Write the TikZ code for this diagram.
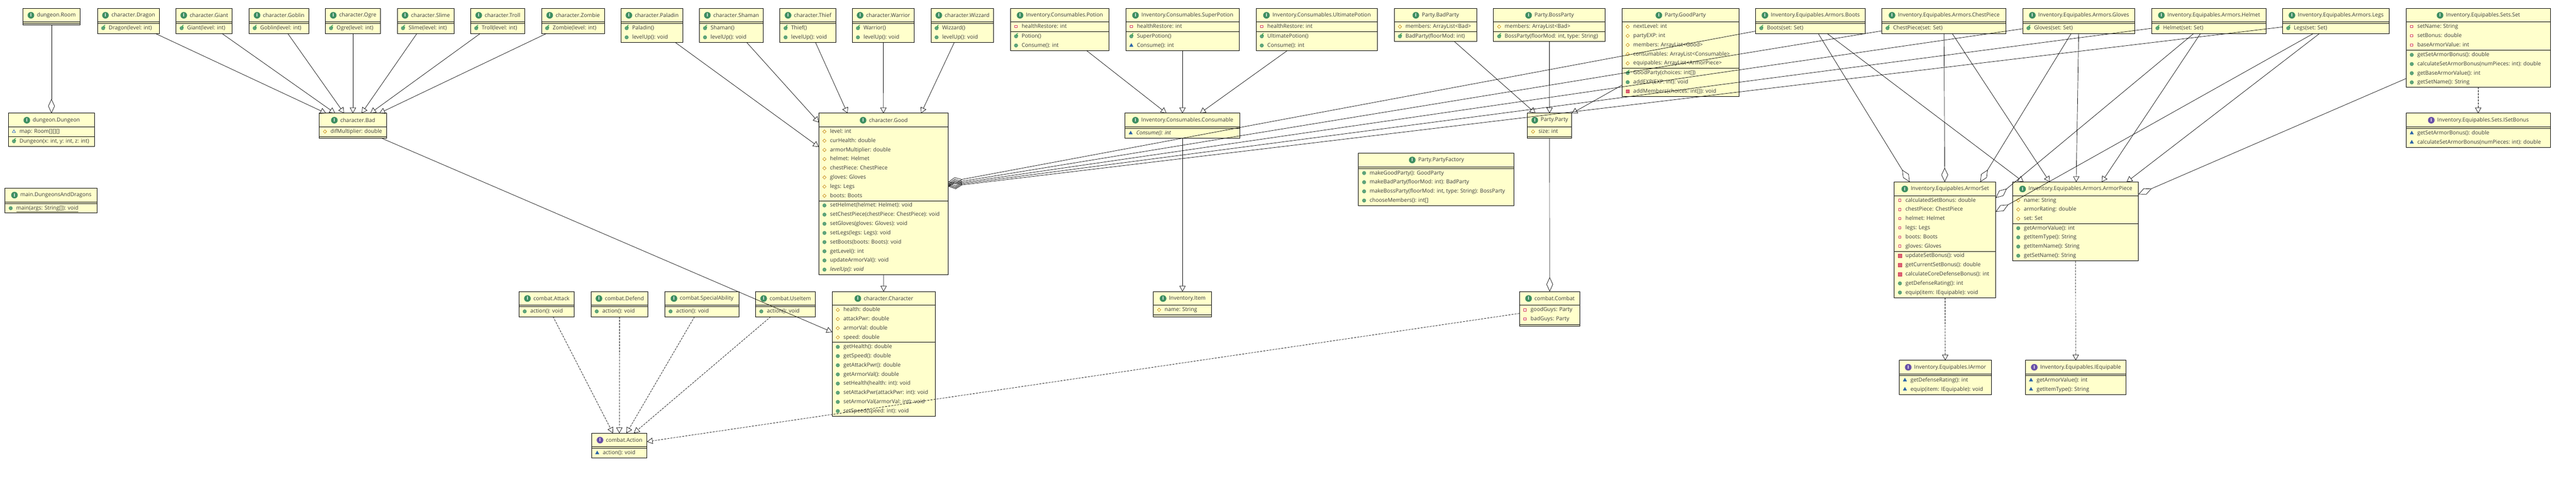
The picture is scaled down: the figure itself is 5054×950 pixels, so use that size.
\documentclass[tikz,border=0pt]{standalone}
\usepackage{fontspec}
\setmainfont{Open Sans}
\usetikzlibrary{positioning,arrows.meta,shapes.geometric}

\definecolor{boxfill}{HTML}{FFFFCC}
\definecolor{classgreen}{HTML}{3F8F62}
\definecolor{ifacepurple}{HTML}{6A52A8}
\definecolor{pubgreen}{HTML}{5FA57C}
\definecolor{ctorgreen}{HTML}{0E8A36}
\definecolor{protorange}{HTML}{C8901E}
\definecolor{privred}{HTML}{D23C55}
\definecolor{packblue}{HTML}{2A64A8}
\definecolor{rowgray}{HTML}{3C3C3C}

\tikzset{
  classbox/.style={draw=black, line width=0.9pt, fill=boxfill, inner sep=0pt, outer sep=0pt},
  rule/.style={draw=black, line width=0.9pt},
  titletext/.style={font=\fontsize{10.6}{12}\selectfont, text=rowgray, inner sep=0pt, outer sep=0pt},
  rowtext/.style={font=\fontsize{10.6}{12}\selectfont, text=rowgray, anchor=west, inner sep=0pt, outer sep=0pt, text height=9pt, text depth=3pt},
  iconclass/.style={circle, fill=classgreen, text=white, minimum size=13pt, inner sep=0pt, font=\fontsize{9}{9}\selectfont\bfseries},
  iconiface/.style={circle, fill=ifacepurple, text=white, minimum size=13pt, inner sep=0pt, font=\fontsize{9}{9}\selectfont\bfseries},
  iconpub/.style={circle, fill=pubgreen, draw=classgreen, line width=0.5pt, minimum size=7pt, inner sep=0pt},
  iconctor/.style={iconpub, label={[label distance=-4.5pt, text=ctorgreen, inner sep=1pt, font=\fontsize{8}{8}\selectfont\bfseries]40:c}},
  iconprot/.style={diamond, draw=protorange, line width=0.8pt, minimum size=7pt, inner sep=0pt},
  iconpriv/.style={rectangle, draw=privred, fill=white, line width=1pt, minimum size=4.5pt, inner sep=0pt},
  iconprivm/.style={rectangle, draw=privred, fill=privred!80, line width=0.5pt, minimum size=6.5pt, inner sep=0pt},
  iconpack/.style={regular polygon, regular polygon sides=3, draw=packblue, line width=0.8pt, fill=white, minimum size=7pt, inner sep=0pt},
  iconabs/.style={regular polygon, regular polygon sides=3, draw=packblue, fill=packblue, line width=0.5pt, minimum size=8pt, inner sep=0pt},
  gen/.style={line width=0.7pt, -{Triangle[open, length=11pt, width=12pt]}},
  impl/.style={gen, dash pattern=on 4pt off 2pt},
  agg/.style={line width=0.7pt, {Diamond[open, length=28pt, width=13pt]}-},
}

\newcommand{\umlsep}[2]{\draw[rule] (#1.west |- 0,#2) -- (#1.east |- 0,#2);}
\newcommand{\umlclass}[7][iconclass]{
  \node[classbox, minimum width=#4pt-#3pt, minimum height=#6pt-#5pt] (#2) at ({(#3+#4)/2},{(#5+#6)/2}) {};
  \node[titletext, xshift=9.5pt] (#2-t) at (#2.north |- 0,#5+13.7) {#7};
  \node[#1, left=5pt of #2-t] (#2-i) {\ifx#1iconclass C\else I\fi};
}
\newcommand{\umlrows}[4]{
  \foreach \kind/\txt [count=\i from 0] in {#4} {
    \pgfmathsetmacro{\yy}{#3+\i*18}
    \node[\kind, xshift=11pt] (#1-#2i\i) at (#1.west |- 0,\yy) {};
    \node[rowtext, xshift=22pt] (#1-#2t\i) at (#1.west |- 0,\yy) {\txt};
  }
}

\begin{document}
\begin{tikzpicture}[x=1pt, y=-1pt]
\useasboundingbox (0,0) rectangle (5054,950);

\umlclass{room}{44.5}{157.5}{16.3}{49.3}{dungeon.Room}
\umlsep{room}{43.3} \umlsep{room}{46.3}
\umlclass{dungeon}{16.3}{185.7}{222.3}{287.3}{dungeon.Dungeon}
\umlsep{dungeon}{249.3} \umlsep{dungeon}{268.3}
\umlrows{dungeon}{a}{258.3}{iconpack/{map: Room[][][]}}
\umlrows{dungeon}{m}{277.3}{iconctor/{Dungeon(x: int, y: int, z: int)}}
\umlclass{dnd}{10}{190.6}{369.3}{418.3}{main.DungeonsAndDragons}
\umlsep{dnd}{396.7} \umlsep{dnd}{399.7}
\umlrows{dnd}{m}{408.7}{iconpub/{\underline{main(args: String[]): void}}}

\umlclass{dragon}{191.4}{312.6}{16.3}{65.7}{character.Dragon}
\umlsep{dragon}{43.3} \umlsep{dragon}{46.3}
\umlrows{dragon}{m}{55.3}{iconctor/{Dragon(level: int)}}
\umlclass{giant}{345.3}{455.5}{16.3}{65.7}{character.Giant}
\umlsep{giant}{43.3} \umlsep{giant}{46.3}
\umlrows{giant}{m}{55.3}{iconctor/{Giant(level: int)}}
\umlclass{goblin}{488.6}{605.7}{16.3}{65.7}{character.Goblin}
\umlsep{goblin}{43.3} \umlsep{goblin}{46.3}
\umlrows{goblin}{m}{55.3}{iconctor/{Goblin(level: int)}}
\umlclass{ogre}{638.4}{746.5}{16.3}{65.7}{character.Ogre}
\umlsep{ogre}{43.3} \umlsep{ogre}{46.3}
\umlrows{ogre}{m}{55.3}{iconctor/{Ogre(level: int)}}
\umlclass{slime}{779.6}{890.6}{16.3}{65.7}{character.Slime}
\umlsep{slime}{43.3} \umlsep{slime}{46.3}
\umlrows{slime}{m}{55.3}{iconctor/{Slime(level: int)}}
\umlclass{troll}{923.3}{1029.4}{16.3}{65.7}{character.Troll}
\umlsep{troll}{43.3} \umlsep{troll}{46.3}
\umlrows{troll}{m}{55.3}{iconctor/{Troll(level: int)}}
\umlclass{zombie}{1062.4}{1185.7}{16.3}{65.7}{character.Zombie}
\umlsep{zombie}{43.3} \umlsep{zombie}{46.3}
\umlrows{zombie}{m}{55.3}{iconctor/{Zombie(level: int)}}
\umlclass{bad}{626.5}{758.4}{222.3}{271.7}{character.Bad}
\umlsep{bad}{249.3} \umlsep{bad}{268.3}
\umlrows{bad}{a}{258.3}{iconprot/{difMultiplier: double}}

\umlclass{paladin}{1218.4}{1339.6}{16.3}{83.3}{character.Paladin}
\umlsep{paladin}{43.3} \umlsep{paladin}{46.3}
\umlrows{paladin}{m}{55.3}{iconctor/Paladin(), iconpub/{levelUp(): void}}
\umlclass{shaman}{1372.2}{1497.6}{16.3}{83.3}{character.Shaman}
\umlsep{shaman}{43.3} \umlsep{shaman}{46.3}
\umlrows{shaman}{m}{55.3}{iconctor/Shaman(), iconpub/{levelUp(): void}}
\umlclass{thief}{1530.2}{1639.6}{16.3}{83.3}{character.Thief}
\umlsep{thief}{43.3} \umlsep{thief}{46.3}
\umlrows{thief}{m}{55.3}{iconctor/Thief(), iconpub/{levelUp(): void}}
\umlclass{warrior}{1672.2}{1793.5}{16.3}{83.3}{character.Warrior}
\umlsep{warrior}{43.3} \umlsep{warrior}{46.3}
\umlrows{warrior}{m}{55.3}{iconctor/Warrior(), iconpub/{levelUp(): void}}
\umlclass{wizzard}{1826.5}{1949.4}{16.3}{83.3}{character.Wizzard}
\umlsep{wizzard}{43.3} \umlsep{wizzard}{46.3}
\umlrows{wizzard}{m}{55.3}{iconctor/Wizzard(), iconpub/{levelUp(): void}}

\umlclass{good}{1606.5}{1860.4}{222.3}{539.3}{character.Good}
\umlsep{good}{249.3} \umlsep{good}{394.3}
\umlrows{good}{a}{258.3}{iconprot/{level: int}, iconprot/{curHealth: double}, iconprot/{armorMultiplier: double}, iconprot/{helmet: Helmet}, iconprot/{chestPiece: ChestPiece}, iconprot/{gloves: Gloves}, iconprot/{legs: Legs}, iconprot/{boots: Boots}}
\umlrows{good}{m}{403.3}{iconpub/{setHelmet(helmet: Helmet): void}, iconpub/{setChestPiece(chestPiece: ChestPiece): void}, iconpub/{setGloves(gloves: Gloves): void}, iconpub/{setLegs(legs: Legs): void}, iconpub/{setBoots(boots: Boots): void}, iconpub/{getLevel(): int}, iconpub/{updateArmorVal(): void}, iconpub/{\itshape levelUp(): void}}

\umlclass{character}{1632.7}{1834.7}{572.3}{817.3}{character.Character}
\umlsep{character}{599.3} \umlsep{character}{672}
\umlrows{character}{a}{608.3}{iconprot/{health: double}, iconprot/{attackPwr: double}, iconprot/{armorVal: double}, iconprot/{speed: double}}
\umlrows{character}{m}{681}{iconpub/{getHealth(): double}, iconpub/{getSpeed(): double}, iconpub/{getAttackPwr(): double}, iconpub/{getArmorVal(): double}, iconpub/{setHealth(health: int): void}, iconpub/{setAttackPwr(attackPwr: int): void}, iconpub/{setArmorVal(armorVal: int): void}, iconpub/{setSpeed(speed: int): void}}

\umlclass{attack}{1018.4}{1126.5}{572.3}{621.7}{combat.Attack}
\umlsep{attack}{599.3} \umlsep{attack}{602.3}
\umlrows{attack}{m}{611.3}{iconpub/{action(): void}}
\umlclass{defend}{1159.7}{1271.4}{572.3}{621.7}{combat.Defend}
\umlsep{defend}{599.3} \umlsep{defend}{602.3}
\umlrows{defend}{m}{611.3}{iconpub/{action(): void}}
\umlclass{special}{1304.6}{1449.5}{572.3}{621.7}{combat.SpecialAbility}
\umlsep{special}{599.3} \umlsep{special}{602.3}
\umlrows{special}{m}{611.3}{iconpub/{action(): void}}
\umlclass{useitem}{1482.7}{1599.5}{572.3}{621.7}{combat.UseItem}
\umlsep{useitem}{599.3} \umlsep{useitem}{602.3}
\umlrows{useitem}{m}{611.3}{iconpub/{action(): void}}
\umlclass[iconiface]{action}{1160.7}{1269.4}{850.3}{899.3}{combat.Action}
\umlsep{action}{877.3} \umlsep{action}{880.3}
\umlrows{action}{m}{889.3}{iconabs/{action(): void}}
\umlclass{combat}{2981}{3100}{572.3}{640.7}{combat.Combat}
\umlsep{combat}{599.3} \umlsep{combat}{637.3}
\umlrows{combat}{a}{608.3}{iconpriv/{goodGuys: Party}, iconpriv/{badGuys: Party}}

\umlclass{potion}{1982.4}{2175.5}{16.3}{99.3}{Inventory.Consumables.Potion}
\umlsep{potion}{43.3} \umlsep{potion}{62.3}
\umlrows{potion}{a}{52.3}{iconpriv/{healthRestore: int}}
\umlrows{potion}{m}{71.3}{iconctor/Potion(), iconpub/{Consume(): int}}
\umlclass{superpotion}{2208.6}{2431.4}{16.3}{99.3}{Inventory.Consumables.SuperPotion}
\umlsep{superpotion}{43.3} \umlsep{superpotion}{62.3}
\umlrows{superpotion}{a}{52.3}{iconpriv/{healthRestore: int}}
\umlrows{superpotion}{m}{71.3}{iconctor/SuperPotion(), iconabs/{Consume(): int}}
\umlclass{ultimate}{2464.5}{2702.4}{16.3}{99.3}{Inventory.Consumables.UltimatePotion}
\umlsep{ultimate}{43.3} \umlsep{ultimate}{62.3}
\umlrows{ultimate}{a}{52.3}{iconpriv/{healthRestore: int}}
\umlrows{ultimate}{m}{71.3}{iconctor/UltimatePotion(), iconpub/{Consume(): int}}
\umlclass{consumable}{2207.3}{2432.7}{222.3}{271.7}{Inventory.Consumables.Consumable}
\umlsep{consumable}{249.3} \umlsep{consumable}{252.3}
\umlrows{consumable}{m}{261.3}{iconabs/{\itshape Consume(): int}}
\umlclass{item}{2263}{2377}{572.3}{621.7}{Inventory.Item}
\umlsep{item}{599.3} \umlsep{item}{618.3}
\umlrows{item}{a}{608.3}{iconprot/{name: String}}

\umlclass{badparty}{2735.5}{2897.6}{16.3}{81.3}{Party.BadParty}
\umlsep{badparty}{43.3} \umlsep{badparty}{62.3}
\umlrows{badparty}{a}{52.3}{iconprot/{members: ArrayList<Bad>}}
\umlrows{badparty}{m}{71.3}{iconctor/{BadParty(floorMod: int)}}
\umlclass{bossparty}{2930.2}{3149.4}{16.3}{81.3}{Party.BossParty}
\umlsep{bossparty}{43.3} \umlsep{bossparty}{62.3}
\umlrows{bossparty}{a}{52.3}{iconprot/{members: ArrayList<Bad>}}
\umlrows{bossparty}{m}{71.3}{iconctor/{BossParty(floorMod: int, type: String)}}
\umlclass{goodparty}{3182.4}{3411.4}{16.3}{189.3}{Party.GoodParty}
\umlsep{goodparty}{43.3} \umlsep{goodparty}{134.3}
\umlrows{goodparty}{a}{52.3}{iconprot/{nextLevel: int}, iconprot/{partyEXP: int}, iconprot/{members: ArrayList<Good>}, iconprot/{consumables: ArrayList<Consumable>}, iconprot/{equipables: ArrayList<ArmorPiece>}}
\umlrows{goodparty}{m}{143.3}{iconctor/{GoodParty(choices: int[])}, iconpub/{addEXP(EXP: int): void}, iconprivm/{addMembers(choices: int[]): void}}
\umlclass{party}{2996.7}{3083.7}{222.3}{271.7}{Party.Party}
\umlsep{party}{249.3} \umlsep{party}{268.3}
\umlrows{party}{a}{258.3}{iconprot/{size: int}}
\umlclass{factory}{2665.3}{2970.6}{300.3}{403.3}{Party.PartyFactory}
\umlsep{factory}{327.7} \umlsep{factory}{330.7}
\umlrows{factory}{m}{339.7}{iconpub/{makeGoodParty(): GoodParty}, iconpub/{makeBadParty(floorMod: int): BadParty}, iconpub/{makeBossParty(floorMod: int, type: String): BossParty}, iconpub/{chooseMembers(): int[]}}

\umlclass{boots}{3444.5}{3659.6}{16.3}{65.7}{Inventory.Equipables.Armors.Boots}
\umlsep{boots}{43.3} \umlsep{boots}{46.3}
\umlrows{boots}{m}{55.3}{iconctor/{Boots(set: Set)}}
\umlclass{chestpiece}{3692.2}{3935.5}{16.3}{65.7}{Inventory.Equipables.Armors.ChestPiece}
\umlsep{chestpiece}{43.3} \umlsep{chestpiece}{46.3}
\umlrows{chestpiece}{m}{55.3}{iconctor/{ChestPiece(set: Set)}}
\umlclass{gloves}{3968.6}{4188.6}{16.3}{65.7}{Inventory.Equipables.Armors.Gloves}
\umlsep{gloves}{43.3} \umlsep{gloves}{46.3}
\umlrows{gloves}{m}{55.3}{iconctor/{Gloves(set: Set)}}
\umlclass{helmet}{4221.8}{4445.6}{16.3}{65.7}{Inventory.Equipables.Armors.Helmet}
\umlsep{helmet}{43.3} \umlsep{helmet}{46.3}
\umlrows{helmet}{m}{55.3}{iconctor/{Helmet(set: Set)}}
\umlclass{legs}{4478.3}{4687.5}{16.3}{65.7}{Inventory.Equipables.Armors.Legs}
\umlsep{legs}{43.3} \umlsep{legs}{46.3}
\umlrows{legs}{m}{55.3}{iconctor/{Legs(set: Set)}}

\umlclass{set}{4720.7}{5003.4}{16.3}{171.3}{Inventory.Equipables.Sets.Set}
\umlsep{set}{43.3} \umlsep{set}{98.7}
\umlrows{set}{a}{52.3}{iconpriv/{setName: String}, iconpriv/{setBonus: double}, iconpriv/{baseArmorValue: int}}
\umlrows{set}{m}{107.7}{iconpub/{getSetArmorBonus(): double}, iconpub/{calculateSetArmorBonus(numPieces: int): double}, iconpub/{getBaseArmorValue(): int}, iconpub/{getSetName(): String}}
\umlclass[iconiface]{isetbonus}{4720.7}{5003.4}{222.3}{289.3}{Inventory.Equipables.Sets.ISetBonus}
\umlsep{isetbonus}{249.3} \umlsep{isetbonus}{252.3}
\umlrows{isetbonus}{m}{261.3}{iconabs/{getSetArmorBonus(): double}, iconabs/{calculateSetArmorBonus(numPieces: int): double}}

\umlclass{armorset}{3716.5}{3915.6}{357.3}{584.3}{Inventory.Equipables.ArmorSet}
\umlsep{armorset}{384.3} \umlsep{armorset}{493.3}
\umlrows{armorset}{a}{393.3}{iconpriv/{calculatedSetBonus: double}, iconpriv/{chestPiece: ChestPiece}, iconpriv/{helmet: Helmet}, iconpriv/{legs: Legs}, iconpriv/{boots: Boots}, iconpriv/{gloves: Gloves}}
\umlrows{armorset}{m}{502.3}{iconprivm/{updateSetBonus(): void}, iconprivm/{getCurrentSetBonus(): double}, iconprivm/{calculateCoreDefenseBonus(): int}, iconpub/{getDefenseRating(): int}, iconpub/{equip(item: IEquipable): void}}
\umlclass{armorpiece}{3948.7}{4195.5}{357.3}{512.3}{Inventory.Equipables.Armors.ArmorPiece}
\umlsep{armorpiece}{384.3} \umlsep{armorpiece}{439}
\umlrows{armorpiece}{a}{393.3}{iconprot/{name: String}, iconprot/{armorRating: double}, iconprot/{set: Set}}
\umlrows{armorpiece}{m}{448}{iconpub/{getArmorValue(): int}, iconpub/{getItemType(): String}, iconpub/{getItemName(): String}, iconpub/{getSetName(): String}}
\umlclass[iconiface]{iarmor}{3726.3}{3906.7}{707.3}{774.3}{Inventory.Equipables.IArmor}
\umlsep{iarmor}{734.3} \umlsep{iarmor}{737.3}
\umlrows{iarmor}{m}{746.3}{iconabs/{getDefenseRating(): int}, iconabs/{equip(item: IEquipable): void}}
\umlclass[iconiface]{iequipable}{3973.7}{4171.4}{707.3}{774.3}{Inventory.Equipables.IEquipable}
\umlsep{iequipable}{734.3} \umlsep{iequipable}{737.3}
\umlrows{iequipable}{m}{746.3}{iconabs/{getArmorValue(): int}, iconabs/{getItemType(): String}}

\draw[agg] (dungeon) -- (room);
\foreach \src in {dragon,giant,goblin,ogre,slime,troll,zombie} \draw[gen] (\src) -- (bad);
\foreach \src in {paladin,shaman,thief,warrior,wizzard} \draw[gen] (\src) -- (good);
\draw[gen] (bad) -- (character);
\draw[gen] (good) -- (character);
\foreach \src in {attack,defend,special,useitem,combat} \draw[impl] (\src) -- (action);
\foreach \src in {potion,superpotion,ultimate} \draw[gen] (\src) -- (consumable);
\draw[gen] (consumable) -- (item);
\foreach \src in {badparty,bossparty,goodparty} \draw[gen] (\src) -- (party);
\draw[agg] (combat) -- (party);
\foreach \src in {boots,chestpiece,gloves,helmet,legs} {
  \draw[gen] (\src) -- (armorpiece);
  \draw[agg] (armorset) -- (\src);
  \draw[agg] (good) -- (\src);
}
\draw[agg] (armorpiece) -- (set);
\draw[impl] (set) -- (isetbonus);
\draw[impl] (armorset) -- (iarmor);
\draw[impl] (armorpiece) -- (iequipable);
\end{tikzpicture}
\end{document}
